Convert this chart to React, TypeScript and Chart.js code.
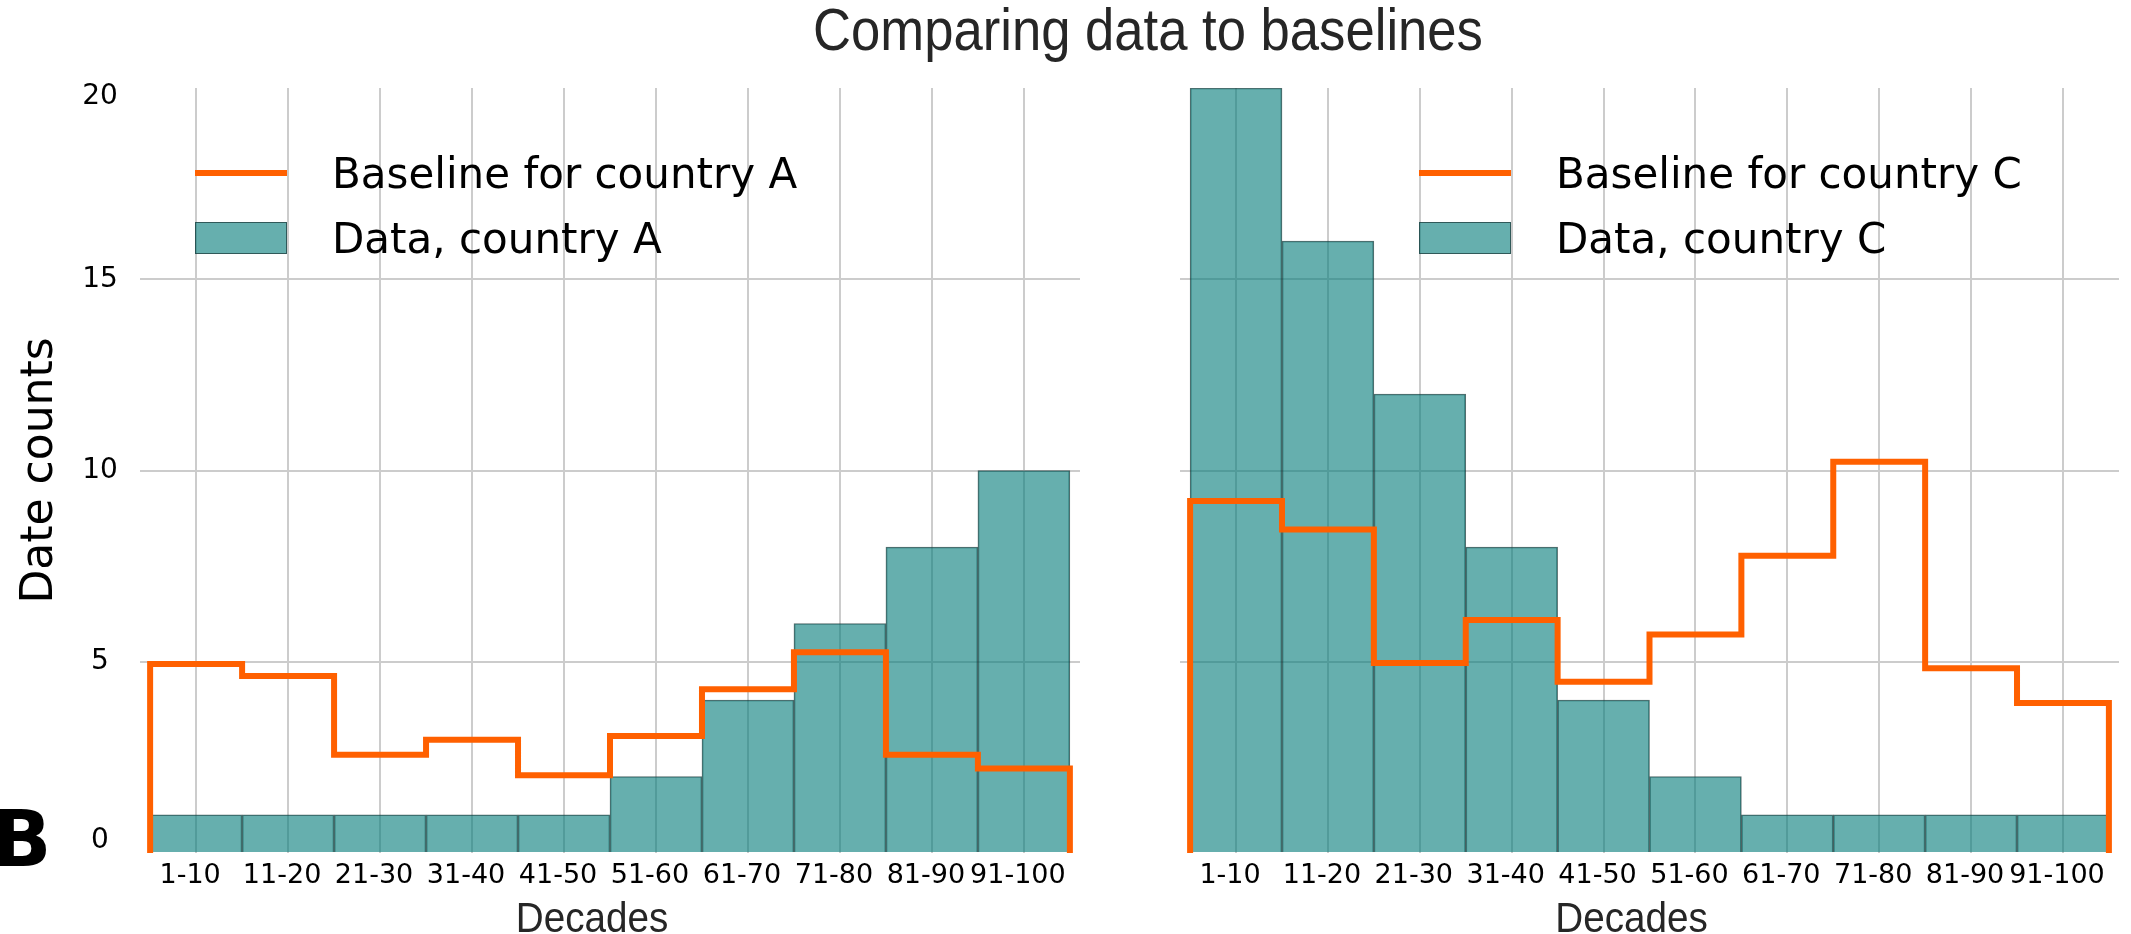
import { useEffect, useRef } from "react";
import { Chart, registerables } from "chart.js";

Chart.register(...registerables);

// Categories and values
const decades = ["1-10", "11-20", "21-30", "31-40", "41-50", "51-60", "61-70", "71-80", "81-90", "91-100"];
const countsA = [1, 1, 1, 1, 1, 2, 4, 6, 8, 10];
const baselineA = [4.94, 4.63, 2.57, 2.96, 2.03, 3.06, 4.28, 5.25, 2.57, 2.21];
const countsC = [20, 16, 12, 8, 4, 2, 1, 1, 1, 1];
const baselineC = [9.2, 8.46, 4.97, 6.09, 4.48, 5.71, 7.77, 10.23, 4.83, 3.92];
const yTickStep = 5;
const yMax = 20;

const ORANGE = "#ff6000";
const TEAL = "rgba(0, 122, 120, 0.6)";
const TEAL_EDGE = "rgba(30, 60, 60, 0.75)";
const GRID = "#cccccc";
const SANS = '"Liberation Sans", sans-serif';
const DEJAVU = '"DejaVu Sans", sans-serif';

const HEIGHT = 934;
const AREA_TOP = 88;
const AREA_BOTTOM = 853;

// histogram outline: drop at both ends, flat across each bin
function stepPoints(values: number[]) {
  const pts = [{ x: 0, y: 0 }];
  values.forEach((v, i) => pts.push({ x: i, y: v }));
  pts.push({ x: values.length, y: values[values.length - 1] });
  pts.push({ x: values.length, y: 0 });
  return pts;
}

// legend inside the plot, y tick labels (end ones pulled inwards) and a condensed x title
function panelDecor(legendX: number, xTitle: string, showY: boolean) {
  return {
    id: "panelDecor",
    afterDraw(chart: Chart) {
      const { ctx, chartArea } = chart;
      const [line, bars] = chart.data.datasets as any[];
      const x = chartArea.left + legendX;
      const top = chartArea.top;
      ctx.save();
      ctx.strokeStyle = line.borderColor;
      ctx.lineWidth = 6;
      ctx.beginPath();
      ctx.moveTo(x, top + 85);
      ctx.lineTo(x + 92, top + 85);
      ctx.stroke();
      ctx.fillStyle = bars.backgroundColor;
      ctx.fillRect(x, top + 134, 92, 32);
      ctx.strokeStyle = TEAL_EDGE;
      ctx.lineWidth = 1;
      ctx.strokeRect(x + 0.5, top + 134.5, 91, 31);
      ctx.fillStyle = "#000";
      ctx.font = `42px ${DEJAVU}`;
      ctx.textBaseline = "alphabetic";
      ctx.fillText(line.label, x + 137, top + 100);
      ctx.fillText(bars.label, x + 137, top + 165);

      if (showY) {
        const yScale = chart.scales.y;
        ctx.font = `28px ${DEJAVU}`;
        ctx.textAlign = "center";
        ctx.textBaseline = "middle";
        yScale.ticks.forEach((t) => {
          const nudge = t.value === yScale.max ? 9 : t.value === yScale.min ? -12 : 0;
          ctx.fillText(String(t.value), yScale.right - 40, yScale.getPixelForValue(t.value) + nudge);
        });
      }

      // axis title, narrow face
      const cx = (chartArea.left + chartArea.right) / 2 - 18;
      ctx.translate(cx, chartArea.bottom + 79);
      ctx.scale(0.92, 1);
      ctx.font = `42px ${SANS}`;
      ctx.textAlign = "center";
      ctx.textBaseline = "alphabetic";
      ctx.fillStyle = "#262626";
      ctx.fillText(xTitle, 0, 0);
      ctx.restore();
    },
  };
}

interface PanelProps {
  country: string;
  counts: number[];
  baseline: number[];
  left: number;
  width: number;
  areaLeft: number;
  areaRight: number;
  showY: boolean;
  legendX: number;
}

function Panel({ country, counts, baseline, left, width, areaLeft, areaRight, showY, legendX }: PanelProps) {
  const canvasRef = useRef<HTMLCanvasElement>(null);

  useEffect(() => {
    if (!canvasRef.current) return;
    const chart = new Chart(canvasRef.current, {
      type: "bar",
      data: {
        datasets: [
          {
            type: "line",
            label: `Baseline for country ${country}`,
            data: stepPoints(baseline),
            stepped: true,
            borderColor: ORANGE,
            borderWidth: 6,
            borderJoinStyle: "miter",
            borderCapStyle: "butt",
            pointRadius: 0,
            fill: false,
            order: 0,
          },
          {
            type: "bar",
            label: `Data, country ${country}`,
            data: counts.map((v, i) => ({ x: i + 0.5, y: v })),
            backgroundColor: TEAL,
            borderColor: TEAL_EDGE,
            borderWidth: 1,
            barPercentage: 1,
            categoryPercentage: 1,
            order: 1,
          },
        ] as any,
      },
      options: {
        responsive: false,
        animation: false,
        devicePixelRatio: 1,
        events: [],
        layout: { padding: { top: AREA_TOP, right: width - areaRight, left: 0, bottom: 0 } },
        plugins: {
          legend: { display: false },
          tooltip: { enabled: false },
        },
        scales: {
          x: {
            type: "linear",
            min: -0.11,
            max: counts.length + 0.11,
            bounds: "data",
            offset: false,
            afterBuildTicks: (scale: any) => {
              scale.ticks = decades.map((_, i) => ({ value: i + 0.5 }));
            },
            afterFit: (scale: any) => {
              scale.height = HEIGHT - AREA_BOTTOM;
            },
            grid: { color: GRID, lineWidth: 2, drawTicks: false, offset: false },
            border: { display: false },
            ticks: {
              callback: (_v: any, i: number) => decades[i],
              font: { family: DEJAVU, size: 27 },
              color: "#000",
              padding: 7,
              labelOffset: -6,
              maxRotation: 0,
              autoSkip: false,
            },
          },
          y: {
            min: 0,
            max: yMax,
            afterFit: (scale: any) => {
              scale.width = areaLeft;
            },
            grid: {
              color: (ctx: any) =>
                ctx.tick && (ctx.tick.value === 0 || ctx.tick.value === yMax) ? "rgba(0,0,0,0)" : GRID,
              lineWidth: 2,
              drawTicks: false,
            },
            border: { display: false },
            ticks: {
              stepSize: yTickStep,
              display: false,
            },
            title: {
              display: showY,
              text: "Date counts",
              font: { family: DEJAVU, size: 44 },
              color: "#000",
              padding: { top: 14, bottom: 0 },
            },
          },
        },
      } as any,
      plugins: [panelDecor(legendX, "Decades", showY)],
    });
    return () => chart.destroy();
  }, [country, counts, baseline, width, areaLeft, areaRight, showY, legendX]);

  return (
    <canvas
      ref={canvasRef}
      width={width}
      height={HEIGHT}
      style={{ position: "absolute", left, top: 0, width, height: HEIGHT }}
    />
  );
}

export default function App() {
  return (
    <div
      style={{
        position: "absolute",
        left: 0,
        top: 0,
        width: 2131,
        height: HEIGHT,
        overflow: "hidden",
        background: "#fff",
      }}
    >
      <Panel
        country="A"
        counts={countsA}
        baseline={baselineA}
        left={0}
        width={1100}
        areaLeft={140}
        areaRight={1080}
        showY={true}
        legendX={55}
      />
      <Panel
        country="C"
        counts={countsC}
        baseline={baselineC}
        left={1100}
        width={1031}
        areaLeft={80}
        areaRight={1019}
        showY={false}
        legendX={239}
      />
      <div
        style={{
          position: "absolute",
          left: 0,
          width: 2296,
          top: 0,
          textAlign: "center",
          fontFamily: SANS,
          fontSize: 60,
          lineHeight: 1,
          color: "#262626",
          whiteSpace: "nowrap",
          transform: "scaleX(0.877)",
        }}
      >
        Comparing data to baselines
      </div>
      <div
        style={{
          position: "absolute",
          left: -8,
          top: 800,
          fontFamily: DEJAVU,
          fontWeight: "bold",
          fontSize: 78,
          lineHeight: 1,
          color: "#000",
        }}
      >
        B
      </div>
    </div>
  );
}
